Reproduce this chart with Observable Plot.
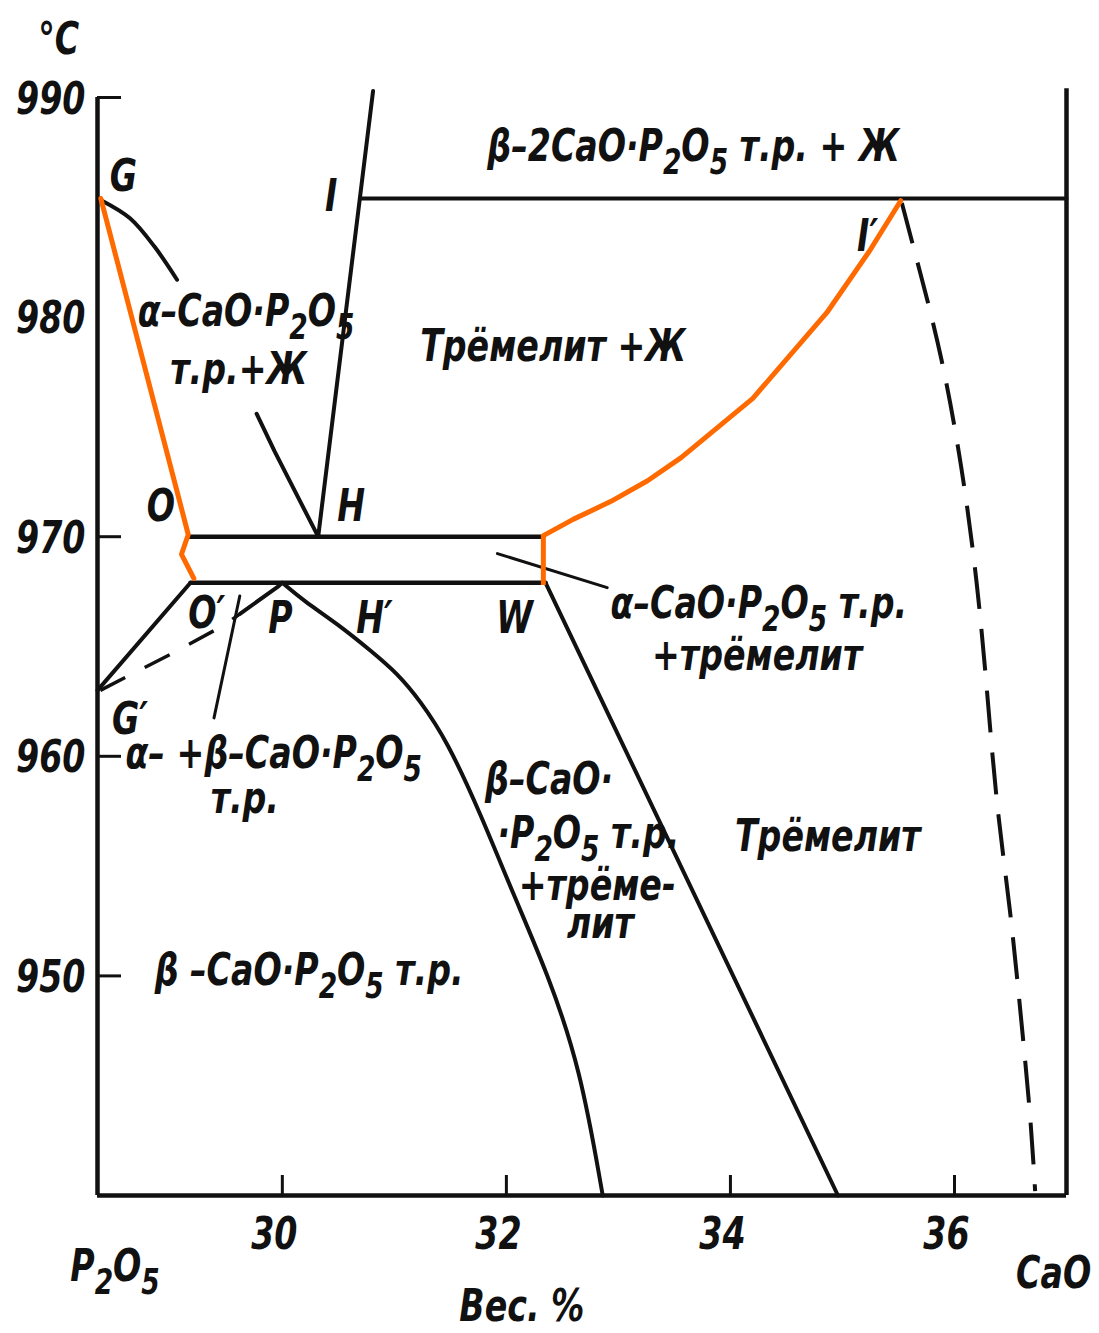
<!DOCTYPE html>
<html><head><meta charset="utf-8">
<script src="https://cdn.jsdelivr.net/npm/d3@7"></script>
<script src="https://cdn.jsdelivr.net/npm/@observablehq/plot@0.6"></script>
<style>
html,body{margin:0;padding:0;background:#fff;}
#chart svg{display:block;overflow:visible;}
</style>
</head><body><div id="chart"></div>
<script>
// ---- scales / ticks ----
const xDomain = [28.35, 37];
const yDomain = [940, 990];
const rightAxisTop = 990.4;
const xTicks = [30, 32, 34, 36];
const yTicks = [950, 960, 970, 980, 990];
const yTickMarks = [950, 960, 970, 990];

// ---- phase boundaries: [вес.% CaO, °C] ----
const liquidusG = [[28.39,985.3],[28.64,984.5],[28.86,983.2],[29.06,981.7]];
const liquidusGH = [[29.77,975.6],[29.93,973.9],[30.32,970.0]];
const lineIH = [[30.81,990.3],[30.32,970.0]];
const isothermI = [[30.70,985.4],[37.0,985.4]];
const isothermOH = [[29.16,970.0],[32.33,970.0]];
const isothermOW = [[29.18,967.9],[32.35,967.9]];
const lineOG = [[29.18,967.9],[28.35,963.0]];
const dashedGP = [[28.375,963.0],[28.64,963.7],[29.06,964.8],[29.49,966.0],[29.625,966.5]];
const solidGP = [[29.625,966.5],[29.955,967.7],[30.0,967.9]];
const curveP = [[30.0,967.9],[30.19,967.08],[30.49,966.04],[30.79,964.81],[31.03,963.76],[31.23,962.53],[31.47,960.71],[31.77,957.38],[32.06,953.74],[32.37,950.09],[32.66,945.81],[32.86,940.0]];
const lineW = [[32.35,967.9],[34.96,940.0]];
const dashedI = [[35.53,985.2],[35.68,982.3],[35.89,978.2],[36.07,973.1],[36.20,968.1],[36.29,963.1],[36.375,957.7],[36.5,953.0],[36.59,948.3],[36.68,943.6],[36.72,940.2]];
const leaderAB = [[29.62,967.3],[29.39,961.75]];
const leaderW = [[31.92,969.23],[32.90,967.68]];
const orangeLeft = [[28.38,985.4],[29.16,970.1],[29.10,969.2],[29.21,968.1]];
const orangeRight = [[32.33,970.05],[32.60,970.8],[32.93,971.6],[33.26,972.55],[33.56,973.6],[34.20,976.3],[34.86,980.2],[35.24,983.0],[35.52,985.3]];
const orangeW = [[32.33,970.0],[32.33,967.8]];

// ---- labels: [text, вес.%, °C (baseline)] ----
const labelText = ["°C","G","I","β–2CaO·P_2O_5 т.р. + Ж","I′","α–CaO·P_2O_5","т.р.+Ж","Трёмелит +Ж","O","H","O′","P","H′","W","G′","α– +β–CaO·P_2O_5","т.р.","α–CaO·P_2O_5 т.р.","+трёмелит","β–CaO·","·P_2O_5 т.р.","+трёме-","лит","Трёмелит","β –CaO·P_2O_5 т.р.","P_2O_5","CaO","Вес. %"];
const labelX = [27.82,28.46,30.38,31.83,35.13,28.71,29.0,31.23,28.79,30.49,29.16,29.875,30.66,31.91,28.48,28.6,29.36,32.93,33.30,31.81,31.92,32.11,32.54,34.04,28.86,28.107,36.55,31.58];
const labelT = [992.0,985.76,984.85,987.13,983.0,979.6,976.97,978.0,970.73,970.73,965.85,965.6,965.6,965.6,961.0,959.48,957.43,966.3,963.95,958.3,955.83,953.45,951.73,955.7,949.6,936.1,935.8,934.3];

const INK = "#111";
const ORANGE = "#ff6a00";
const FS = 44;
const NARROW = 0.84;
const FONT = "'DejaVu Sans Condensed','DejaVu Sans',sans-serif";

const pts = arr => arr.map(([x, y]) => ({x, y}));
const ln = (arr, opts = {}) => Plot.line(pts(arr), {x: "x", y: "y", stroke: INK, strokeWidth: 4, strokeLinecap: "round", strokeLinejoin: "round", ...opts});
const labels = labelText.map((t, i) => ({t, x: labelX[i], y: labelT[i]}));

const chart = Plot.plot({
  width: 1099, height: 1333,
  marginLeft: 97, marginRight: 33, marginTop: 97, marginBottom: 138,
  x: {domain: xDomain, label: null},
  y: {domain: yDomain, label: null},
  style: {fontFamily: FONT, fontStyle: "italic", fontWeight: "bold", fontSize: FS + "px", background: "#fff", color: INK, overflow: "visible"},
  marks: [
    // frame
    Plot.ruleX([xDomain[0]], {y1: yDomain[0], y2: yDomain[1], stroke: INK, strokeWidth: 4.5}),
    Plot.ruleX([xDomain[1]], {y1: yDomain[0], y2: rightAxisTop, stroke: INK, strokeWidth: 4.5}),
    Plot.ruleY([yDomain[0]], {x1: xDomain[0], x2: xDomain[1], stroke: INK, strokeWidth: 4.5}),
    // inward ticks
    Plot.axisX({ticks: xTicks, tickSize: -20, tickFormat: () => "", strokeWidth: 3}),
    Plot.axisY({ticks: yTickMarks, tickSize: -24, tickFormat: () => "", strokeWidth: 3}),
    // tick labels
    Plot.axisX({ticks: xTicks, tickSize: 0, tickPadding: 22, dx: -8, fontSize: FS}),
    Plot.axisY({ticks: yTicks, tickSize: 0, tickPadding: 12, dy: 2, fontSize: FS}),
    // phase lines
    ln(liquidusG, {curve: "catmull-rom"}),
    ln(liquidusGH),
    ln(lineIH),
    ln(isothermI),
    ln(isothermOH, {strokeWidth: 4.5}),
    ln(isothermOW, {strokeWidth: 4.5}),
    ln(lineOG),
    ln(dashedGP, {strokeDasharray: "28,22", strokeLinecap: "butt", strokeWidth: 3.5}),
    ln(solidGP),
    ln(curveP, {curve: "basis"}),
    ln(lineW),
    ln(dashedI, {curve: "basis", strokeDasharray: "42,20", strokeLinecap: "butt"}),
    ln(leaderAB, {strokeWidth: 3}),
    ln(leaderW, {strokeWidth: 3}),
    // orange overlay
    ln(orangeLeft, {stroke: ORANGE, strokeWidth: 5}),
    ln(orangeRight, {stroke: ORANGE, strokeWidth: 5}),
    ln(orangeW, {stroke: ORANGE, strokeWidth: 5, strokeLinecap: "butt"}),
    // labels
    Plot.text(labels, {x: "x", y: "y", text: "t", textAnchor: "start", lineAnchor: "bottom", fontSize: FS, fill: INK})
  ]
});

// subscripts: "_d" -> lowered smaller digit
const SUB = Math.round(FS * 0.8), SHIFT = Math.round(FS * 0.3);
chart.querySelectorAll("text").forEach(el => {
  const s = el.textContent;
  if (!s.includes("_")) return;
  el.textContent = "";
  const parts = s.split(/_(\d)/);
  let lowered = false;
  parts.forEach((p, i) => {
    if (p === "") return;
    const ts = document.createElementNS("http://www.w3.org/2000/svg", "tspan");
    ts.textContent = p;
    if (i % 2 === 1) {
      ts.setAttribute("font-size", SUB);
      if (!lowered) { ts.setAttribute("dy", SHIFT); lowered = true; }
    } else if (lowered) {
      ts.setAttribute("dy", -SHIFT); lowered = false;
    }
    el.appendChild(ts);
  });
});

// condensed lettering like the printed original (horizontal squeeze about each text's anchor)
chart.querySelectorAll("text").forEach(el => {
  const tr = el.getAttribute("transform");
  if (tr) el.setAttribute("transform", `${tr} scale(${NARROW},1)`);
});

document.getElementById("chart").appendChild(chart);
</script>
</body></html>
